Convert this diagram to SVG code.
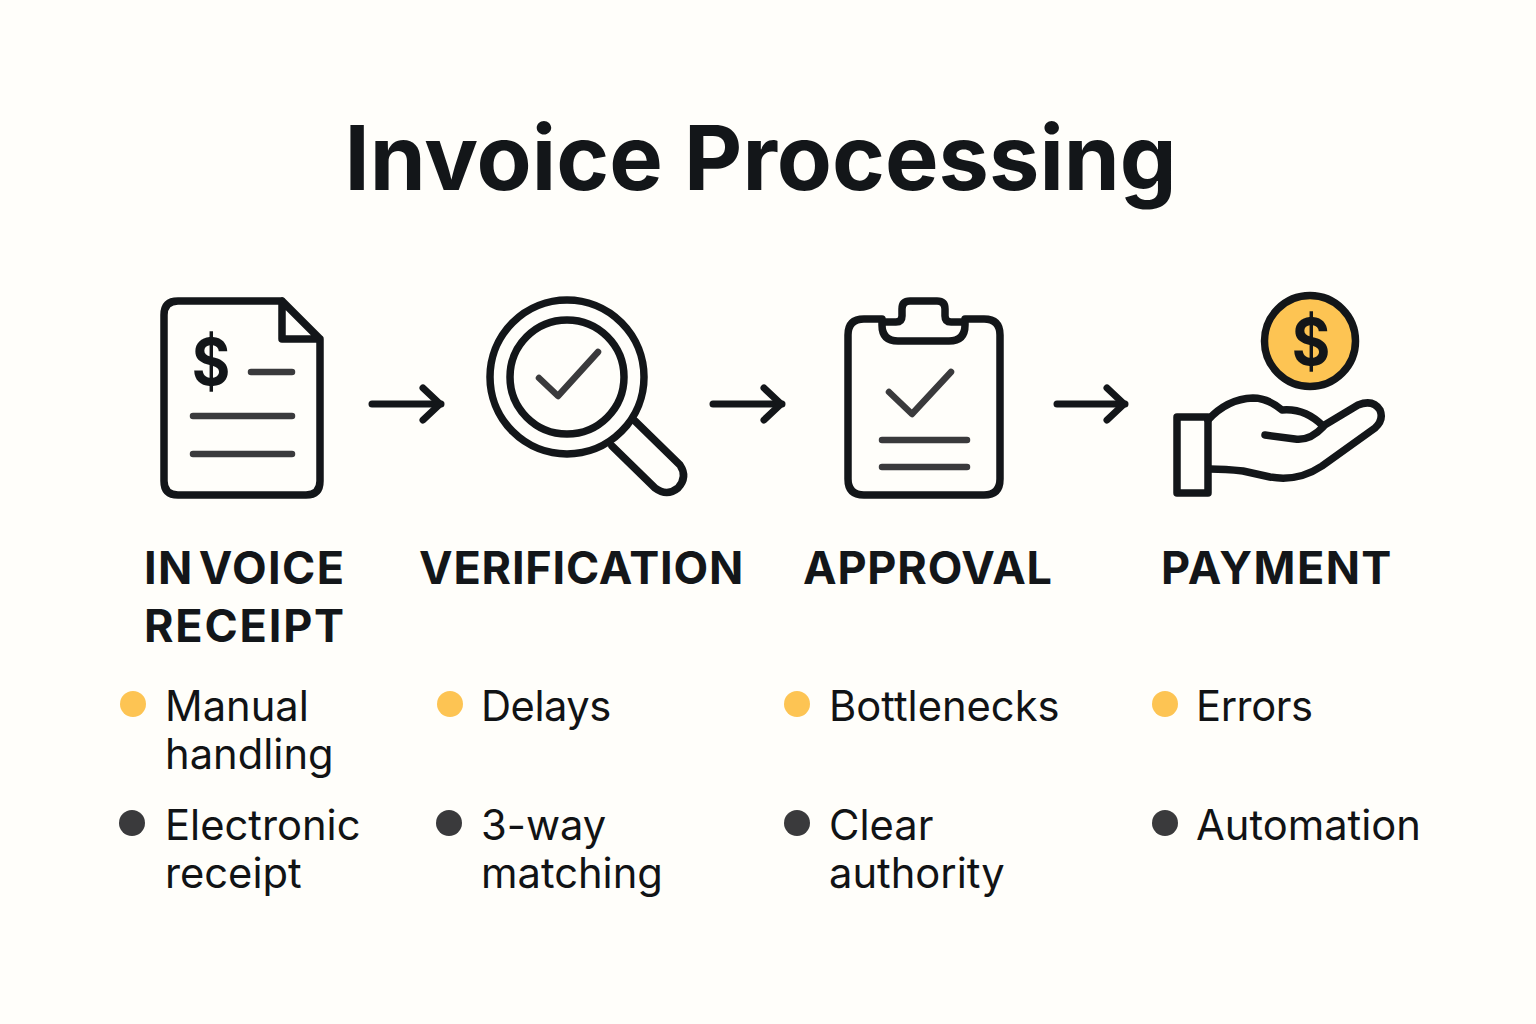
<svg xmlns="http://www.w3.org/2000/svg" width="1536" height="1024" viewBox="0 0 1536 1024">
<style>
text{font-family:Inter,"Liberation Sans",sans-serif;fill:#131619}
.title{font-size:90px;font-weight:700}
.label{font-size:45px;font-weight:700}
.item{font-size:41.7px;font-weight:400;fill:#111315}
.dollar{font-size:64px;font-weight:700;text-anchor:middle}
.ol{fill:none;stroke:#131619;stroke-width:7.5;stroke-linecap:round;stroke-linejoin:round}
.in{fill:none;stroke:#3a3a3c;stroke-width:6.5;stroke-linecap:round;stroke-linejoin:round}
.y{fill:#fdc453}
.d{fill:#3a3a3c}
</style>
<defs>
<marker id="arrow" markerUnits="userSpaceOnUse" markerWidth="34" markerHeight="44" refX="30" refY="22" orient="auto">
<path d="M12 6 L29 22 L12 38" fill="none" stroke="#131619" stroke-width="7" stroke-linecap="round" stroke-linejoin="round"/>
</marker>
</defs>
<rect width="1536" height="1024" fill="#fffefa"/>
<text class="title" x="344.5" y="190">Invoice Processing</text>
<g id="connectors" class="ol">
<path d="M372 404H441" stroke-width="7" marker-end="url(#arrow)"/>
<path d="M713 404H782" stroke-width="7" marker-end="url(#arrow)"/>
<path d="M1057 404H1125" stroke-width="7" marker-end="url(#arrow)"/>
</g>
<g id="invoice-receipt">
<path class="ol" d="M282 301H178Q164 301 164 315V481Q164 495 178 495H306Q320 495 320 481V339L282 301V339H320"/>
<text class="dollar" transform="translate(211 385) scale(.92 1)" x="0" y="0">$</text>
<path class="in" d="M251 372H292M193 416H292M193 454H292"/>
<text class="label" x="144" y="584" letter-spacing="1.4">IN<tspan dx="5">VOICE</tspan></text>
<text class="label" x="144" y="642" letter-spacing="1.8">RECEIPT</text>
<circle class="y" cx="133" cy="704" r="13"/>
<text class="item" x="165" y="721">Manual</text>
<text class="item" x="165" y="769">handling</text>
<circle class="d" cx="132" cy="823" r="13"/>
<text class="item" x="165" y="840">Electronic</text>
<text class="item" x="165" y="888">receipt</text>
</g>
<g id="verification">
<circle class="ol" cx="567" cy="377" r="77"/>
<circle class="ol" cx="567" cy="377" r="57"/>
<path class="in" d="M539 378L558 396L598 352"/>
<path class="ol" d="M612 446L655 488Q667 497 678 488Q688 477 680 465L635 421"/>
<text class="label" x="419" y="584" letter-spacing="0.8">VERIFICATION</text>
<circle class="y" cx="450" cy="704" r="13"/>
<text class="item" x="481" y="721" letter-spacing="-0.5">Delays</text>
<circle class="d" cx="449" cy="823" r="13"/>
<text class="item" x="481" y="840">3-way</text>
<text class="item" x="481" y="888">matching</text>
</g>
<g id="approval">
<path class="ol" d="M882 319H864Q848 319 848 335V479Q848 495 864 495H984Q1000 495 1000 479V335Q1000 319 984 319H965"/>
<path class="ol" d="M882 322V325Q882 341 898 341H949Q965 341 965 325V322H951Q945 322 945 316V309Q945 301 937 301H910Q902 301 902 309V316Q902 322 896 322H882"/>
<path class="in" d="M889 392L912 414L951 372M882 440H967M882 467H967"/>
<text class="label" x="803" y="584" letter-spacing="0.8">APPROVAL</text>
<circle class="y" cx="797" cy="704" r="13"/>
<text class="item" x="829" y="721">Bottlenecks</text>
<circle class="d" cx="797" cy="823" r="13"/>
<text class="item" x="829" y="840">Clear</text>
<text class="item" x="829" y="888">authority</text>
</g>
<g id="payment">
<circle cx="1310" cy="341" r="45.5" fill="#fdc453" stroke="#131619" stroke-width="7.5"/>
<text class="dollar" transform="translate(1311 365) scale(.92 1)" x="0" y="0">$</text>
<rect class="ol" x="1177" y="417" width="31" height="76"/>
<path class="ol" d="M1208 420Q1227 399 1253 398Q1268 398 1282 410Q1305 408 1323 426L1358 405Q1373 399 1380 410Q1384 420 1375 428L1322 466Q1298 482 1270 477L1243 471Q1225 469 1210 469"/>
<path class="ol" d="M1265 435L1295 439Q1310 441 1323 427"/>
<text class="label" x="1161" y="584" letter-spacing="1.4">PAYMENT</text>
<circle class="y" cx="1165" cy="704" r="13"/>
<text class="item" x="1196" y="721" letter-spacing="-0.4">Errors</text>
<circle class="d" cx="1165" cy="823" r="13"/>
<text class="item" x="1196" y="840">Automation</text>
</g>
</svg>
